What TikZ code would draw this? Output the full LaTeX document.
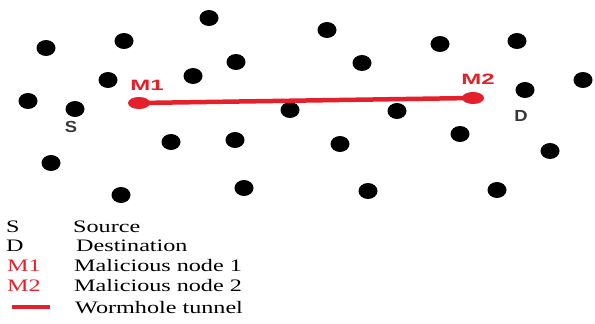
\documentclass[tikz,border=0pt]{standalone}
\usepackage{fontspec}
\usetikzlibrary{shapes.geometric}
\setmainfont{Liberation Serif}
\newfontfamily\legfont[FakeStretch=1.38]{Liberation Serif}
\newfontfamily\labfont[FakeStretch=1.6]{Liberation Sans}
\newfontfamily\sdfont[FakeStretch=1.15]{Liberation Sans}
\definecolor{wred}{RGB}{228,32,42}
\definecolor{lgray}{RGB}{55,55,55}
\tikzset{
  dot/.style={ellipse, fill=black, inner sep=0pt, minimum width=19pt, minimum height=16pt},
  mdot/.style={ellipse, fill=wred, inner sep=0pt, minimum width=22pt, minimum height=12pt},
  mlab/.style={text=wred, font=\labfont\bfseries\fontsize{15}{15}\selectfont, inner sep=0pt},
  sdlab/.style={text=lgray, font=\sdfont\bfseries\fontsize{16}{16}\selectfont, inner sep=0pt},
  legkey/.style={anchor=west, inner sep=0pt, font=\legfont\fontsize{17.5}{17.5}\selectfont},
  legtxt/.style={anchor=west, inner sep=0pt, font=\legfont\fontsize{17.5}{17.5}\selectfont},
  tunnel/.style={draw=wred, line width=4.5pt}
}
\begin{document}
\begin{tikzpicture}[x=1pt,y=-1pt]
\useasboundingbox (0,0) rectangle (595,324);
% ordinary nodes
\node[dot] (n1) at (46,48) {};
\node[dot] (n2) at (124,41) {};
\node[dot] (n3) at (209,18) {};
\node[dot] (n4) at (236,62) {};
\node[dot] (n5) at (108,80) {};
\node[dot] (n6) at (193,76) {};
\node[dot] (n7) at (28,101) {};
\node[dot] (s) at (75,109) {};
\node[dot] (n9) at (290,110) {};
\node[dot] (n10) at (171,142) {};
\node[dot] (n11) at (235,140) {};
\node[dot] (n12) at (51,163) {};
\node[dot] (n13) at (121,195) {};
\node[dot] (n14) at (244,188) {};
\node[dot] (n15) at (327,30) {};
\node[dot] (n16) at (362,63) {};
\node[dot] (n17) at (440,44) {};
\node[dot] (n18) at (517,41) {};
\node[dot] (n19) at (583,80) {};
\node[dot] (d) at (525,90) {};
\node[dot] (n21) at (397,111) {};
\node[dot] (n22) at (460,134) {};
\node[dot] (n23) at (340,144) {};
\node[dot] (n24) at (550,151) {};
\node[dot] (n25) at (368,191) {};
\node[dot] (n26) at (497,190) {};
% wormhole
\node[mdot] (m1) at (139,103) {};
\node[mdot] (m2) at (473,98) {};
\draw[tunnel] (m1.center) -- (m2.center);
\node[mlab] (m1l) at (147,85) {M1};
\node[mlab] (m2l) at (478,79) {M2};
\node[sdlab] (sl) at (71,127) {S};
\node[sdlab] (dl) at (521,116) {D};
% legend
\node[legkey] (k1) at (6,227) {S};
\node[legtxt] (t1) at (73,227) {Source};
\node[legkey] (k2) at (6,246) {D};
\node[legtxt] (t2) at (76,246) {Destination};
\node[legkey, text=wred] (k3) at (7,266) {M1};
\node[legtxt] (t3) at (74,266) {Malicious node 1};
\node[legkey, text=wred] (k4) at (7,286) {M2};
\node[legtxt] (t4) at (74,286) {Malicious node 2};
\coordinate (b1) at (12,307);
\coordinate (b2) at (50,307);
\draw[tunnel] (b1) -- (b2);
\node[legtxt] (t5) at (75,308) {Wormhole tunnel};
\end{tikzpicture}
\end{document}
